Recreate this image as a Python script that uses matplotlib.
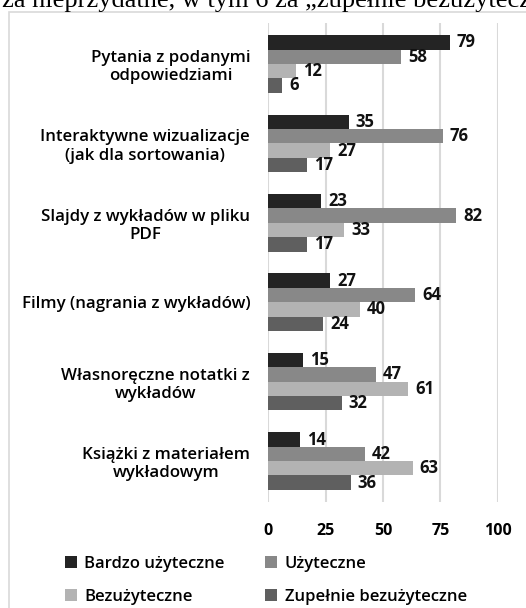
import numpy as np
import matplotlib
matplotlib.use("Agg")
import matplotlib.pyplot as plt
from matplotlib.patches import Rectangle

categories = [
    "Pytania z podanymi\nodpowiedziami",
    "Interaktywne wizualizacje\n(jak dla sortowania)",
    "Slajdy z wykładów w pliku\nPDF",
    "Filmy (nagrania z wykładów)",
    "Własnoręczne notatki z\nwykładów",
    "Książki z materiałem\nwykładowym",
]
series_names = ["Bardzo użyteczne", "Użyteczne", "Bezużyteczne", "Zupełnie bezużyteczne"]
bardzo = [79, 35, 23, 27, 15, 14]
uzyteczne = [58, 76, 82, 64, 47, 42]
bezuzyteczne = [12, 27, 33, 40, 61, 63]
zupelnie = [6, 17, 17, 24, 32, 36]
x_ticks = [0, 25, 50, 75, 100]

colors = ["#242424", "#888888", "#b3b3b3", "#5f5f5f"]
series = [bardzo, uzyteczne, bezuzyteczne, zupelnie]

W, H = 526, 608
fig = plt.figure(figsize=(W / 100, H / 100), dpi=100)
plt.rcParams['font.family'] = ['Open Sans', 'DejaVu Sans']

# chart frame (only left/top edges visible in the crop)
fig.patches.append(Rectangle((9 / W, -0.1), 1.2, (H - 11.5) / H + 0.1,
                             transform=fig.transFigure, fill=False,
                             edgecolor="#d9d9d9", linewidth=1.2))

# cut off document text above the chart
fig.text(2 / W, 1 - 7 / H, "za nieprzydatne, w tym 6 za \u201ezupełnie bezużytecznych\u201d",
         family="Liberation Serif", fontsize=19, ha="left", va="baseline")

ax = fig.add_axes([268.3 / W, 1 - 502 / H, 229.5 / W, 479 / H])

y = np.arange(len(categories))
bh = 0.181
for i, (vals, name, c) in enumerate(zip(series, series_names, colors)):
    bars = ax.barh(y + (i - 1.5) * bh, vals, height=bh, color=c, label=name, zorder=3)
    ax.bar_label(bars, padding=5, fontsize=12, fontweight="bold", color="#111111")

ax.set_xlim(0, 100)
ax.set_ylim(len(categories) - 0.485, -0.515)
ax.set_xticks(x_ticks)
ax.set_yticks(y)
ax.set_yticklabels(categories, multialignment="center", fontsize=12.2, fontweight="semibold")
for lbl in ax.get_xticklabels():
    lbl.set_fontweight("bold")
    lbl.set_fontsize(11.5)
ax.tick_params(axis="x", length=0, pad=15)
ax.tick_params(axis="y", length=0, pad=13)
ax.grid(axis="x", color="#d9d9d9", linewidth=1.5, zorder=0)
for s in ax.spines.values():
    s.set_visible(False)
ax.set_facecolor("none")

handles, labels = ax.get_legend_handles_labels()
order = [0, 2, 1, 3]
leg = fig.legend([handles[k] for k in order], [labels[k] for k in order],
                 loc="upper left", bbox_to_anchor=(50 / W, 1 - 541 / H), ncol=2,
                 frameon=False, handlelength=0.7, handleheight=0.7, handletextpad=0.45,
                 columnspacing=2.45, labelspacing=1.0,
                 prop={"family": ["Open Sans", "DejaVu Sans"], "weight": "semibold", "size": 12})

fig.savefig("out.png", dpi=100)
